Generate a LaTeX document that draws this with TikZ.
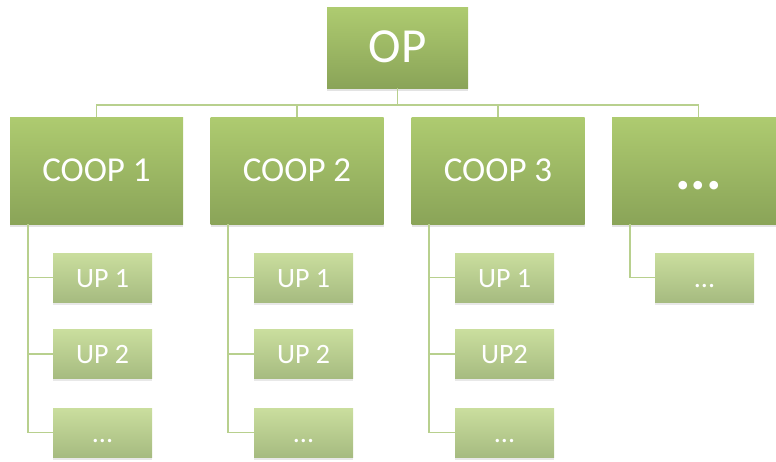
\documentclass[tikz,border=0pt]{standalone}
\usepackage{fontspec}
\setmainfont{Carlito}
\usetikzlibrary{positioning,shadows}
\definecolor{GreenTop}{RGB}{174,203,112}
\definecolor{GreenBot}{RGB}{138,164,88}
\definecolor{SubTop}{RGB}{202,222,158}
\definecolor{SubBot}{RGB}{166,187,128}
\definecolor{LinkGreen}{RGB}{184,208,142}
\tikzset{
  topbox/.style={rectangle,inner sep=0pt,top color=GreenTop,bottom color=GreenBot,text=white,text depth=0pt,
    drop shadow={opacity=0.22,shadow xshift=0pt,shadow yshift=-3pt}},
  opbox/.style={topbox,minimum width=141pt,minimum height=81pt,text height=29pt,font=\fontsize{49}{50}\selectfont},
  coopbox/.style={topbox,minimum width=173pt,minimum height=107pt,text height=21pt,font=\fontsize{35}{36}\selectfont},
  morebox/.style={coopbox,text height=38pt,font=\fontsize{58}{58}\selectfont\bfseries},
  upbox/.style={rectangle,inner sep=0pt,top color=SubTop,bottom color=SubBot,text=white,
    minimum width=99pt,minimum height=49pt,text height=19pt,text depth=0pt,font=\fontsize{28}{29}\selectfont,
    drop shadow={opacity=0.18,shadow xshift=0pt,shadow yshift=-2.5pt}},
  link/.style={draw=LinkGreen,line width=1.8pt}
}

\begin{document}
\begin{tikzpicture}[x=1pt,y=-1pt]
\useasboundingbox (0,0) rectangle (776,461);

% top level
\node[opbox] (op) at (397.5,47.5) {OP};

% cooperatives
\node[coopbox] (coop1) at (96.5,170.5) {COOP 1};
\node[coopbox] (coop2) at (297,170.5) {COOP 2};
\node[coopbox] (coop3) at (498,170.5) {COOP 3};
\node[morebox] (coop4) at (698.5,170.5) {...};

\draw[link] (op.south) -- ++(0,17) -| (coop1.north);
\draw[link] (op.south) -- ++(0,17) -| (coop2.north);
\draw[link] (op.south) -- ++(0,17) -| (coop3.north);
\draw[link] (op.south) -- ++(0,17) -| (coop4.north);

% units
\node[upbox] (up11) at (102.5,277.5) {UP 1};
\node[upbox] (up12) at (102.5,354) {UP 2};
\node[upbox] (up13) at (102.5,432.5) {...};
\node[upbox] (up21) at (303.5,277.5) {UP 1};
\node[upbox] (up22) at (303.5,354) {UP 2};
\node[upbox] (up23) at (303.5,432.5) {...};
\node[upbox] (up31) at (504.5,277.5) {UP 1};
\node[upbox] (up32) at (504.5,354) {UP2};
\node[upbox] (up33) at (504.5,432.5) {...};
\node[upbox] (up41) at (704.5,277.5) {...};

\draw[link] ([xshift=18pt]coop1.south west) |- (up11.west);
\draw[link] ([xshift=18pt]coop1.south west) |- (up12.west);
\draw[link] ([xshift=18pt]coop1.south west) |- (up13.west);
\draw[link] ([xshift=18pt]coop2.south west) |- (up21.west);
\draw[link] ([xshift=18pt]coop2.south west) |- (up22.west);
\draw[link] ([xshift=18pt]coop2.south west) |- (up23.west);
\draw[link] ([xshift=18pt]coop3.south west) |- (up31.west);
\draw[link] ([xshift=18pt]coop3.south west) |- (up32.west);
\draw[link] ([xshift=18pt]coop3.south west) |- (up33.west);
\draw[link] ([xshift=18pt]coop4.south west) |- (up41.west);
\end{tikzpicture}
\end{document}
